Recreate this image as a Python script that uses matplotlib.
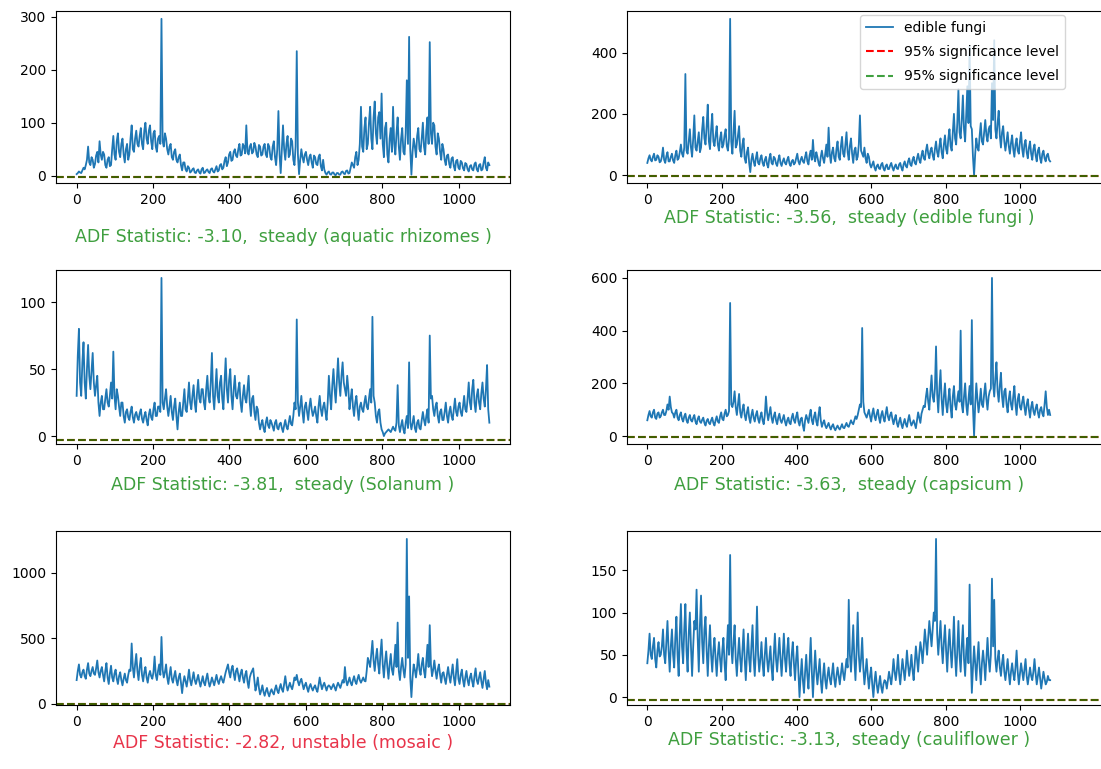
import numpy as np
import matplotlib.pyplot as plt
from matplotlib.ticker import MaxNLocator

# daily series:
# main values every 6 days (0..1080) plus in-between values (3..1077)
days = np.arange(0, 1081, 6)
mid_days = np.arange(3, 1080, 6)

aquatic_rhizomes = [
    3, 8, 5, 15, 20, 55, 20, 30, 22, 45,
    65, 30, 40, 15, 35, 20, 75, 30, 80, 35,
    70, 25, 60, 40, 95, 45, 85, 55, 90, 50,
    100, 60, 95, 50, 85, 45, 75, 296, 55, 70,
    40, 60, 30, 50, 25, 40, 10, 25, 8, 15,
    8, 14, 5, 12, 4, 15, 6, 12, 5, 14,
    6, 18, 10, 22, 15, 35, 25, 45, 30, 50,
    35, 60, 40, 55, 95, 40, 60, 45, 55, 35,
    55, 40, 60, 35, 55, 30, 65, 20, 122, 5,
    95, 30, 75, 40, 65, 20, 235, 3, 50, 25,
    45, 20, 40, 15, 35, 20, 40, 10, 12, 2,
    8, 2, 6, 1, 5, 2, 8, 3, 10, 5,
    25, 15, 45, 30, 130, 45, 110, 60, 130, 50,
    140, 60, 120, 155, 35, 100, 25, 90, 130, 40,
    110, 30, 90, 40, 180, 262, 2, 70, 35, 90,
    45, 100, 40, 110, 252, 60, 95, 40, 70, 30,
    50, 20, 40, 15, 35, 10, 30, 12, 25, 10,
    22, 8, 20, 10, 25, 8, 22, 12, 35, 10,
    20]
aquatic_rhizomes_mid = [
    5, 6, 10, 12, 30, 25, 35, 15, 38, 25,
    40, 45, 20, 30, 18, 50, 40, 65, 45, 60,
    40, 50, 30, 70, 50, 70, 60, 75, 60, 85,
    70, 85, 65, 80, 55, 70, 60, 65, 80, 50,
    55, 35, 45, 30, 35, 20, 25, 12, 18, 6,
    12, 6, 10, 6, 12, 5, 10, 7, 12, 8,
    12, 8, 20, 12, 28, 18, 40, 28, 45, 38,
    50, 38, 60, 42, 45, 55, 42, 62, 40, 58,
    38, 55, 40, 60, 35, 55, 35, 50, 40, 50,
    50, 60, 35, 70, 30, 55, 40, 30, 35, 40,
    30, 35, 25, 38, 22, 35, 18, 30, 5, 6,
    3, 6, 2, 5, 2, 7, 4, 9, 4, 15,
    20, 35, 20, 60, 55, 90, 50, 100, 70, 110,
    80, 110, 70, 60, 90, 40, 70, 45, 60, 80,
    55, 70, 45, 80, 60, 50, 45, 55, 75, 50,
    70, 55, 85, 60, 80, 100, 55, 80, 45, 60,
    30, 38, 22, 32, 18, 28, 15, 28, 14, 24,
    12, 18, 12, 22, 12, 20, 10, 25, 15, 25]

edible_fungi = [
    40, 65, 45, 70, 50, 60, 45, 90, 40, 75,
    45, 70, 40, 80, 55, 100, 60, 330, 70, 150,
    60, 195, 80, 140, 90, 190, 100, 230, 85, 200,
    95, 160, 80, 140, 100, 150, 80, 510, 70, 210,
    100, 160, 60, 120, 40, 90, 10, 70, 30, 75,
    35, 65, 30, 60, 25, 70, 35, 55, 30, 65,
    30, 55, 35, 60, 30, 50, 40, 70, 35, 60,
    40, 75, 35, 80, 115, 45, 60, 30, 80, 40,
    100, 155, 40, 90, 45, 110, 50, 125, 60, 140,
    50, 120, 40, 90, 60, 195, 70, 90, 40, 60,
    25, 45, 15, 35, 20, 40, 15, 35, 20, 40,
    15, 35, 20, 40, 15, 45, 25, 55, 30, 60,
    35, 70, 40, 80, 50, 100, 55, 90, 50, 110,
    60, 120, 55, 130, 70, 150, 80, 200, 100, 280,
    120, 260, 110, 290, 420, 150, 0, 120, 80, 170,
    100, 180, 110, 160, 300, 440, 120, 210, 90, 160,
    80, 140, 70, 130, 60, 120, 70, 140, 60, 115,
    55, 110, 50, 100, 45, 90, 40, 80, 45, 70,
    45]
edible_fungi_mid = [
    55, 50, 60, 48, 65, 42, 60, 50, 62, 45,
    60, 48, 65, 50, 75, 70, 90, 80, 110, 90,
    120, 90, 110, 75, 150, 120, 160, 110, 150, 110,
    130, 100, 120, 90, 130, 95, 120, 110, 140, 90,
    130, 80, 100, 55, 75, 40, 50, 45, 55, 40,
    55, 40, 50, 35, 55, 40, 60, 38, 50, 40,
    45, 40, 50, 38, 45, 35, 55, 45, 50, 45,
    60, 45, 65, 50, 60, 75, 40, 60, 55, 70,
    60, 70, 75, 55, 85, 60, 95, 70, 100, 75,
    95, 70, 80, 50, 100, 80, 60, 55, 70, 35,
    35, 25, 30, 22, 35, 22, 30, 20, 32, 25,
    28, 22, 35, 25, 35, 30, 45, 35, 50, 40,
    55, 50, 65, 55, 80, 70, 80, 65, 85, 75,
    95, 75, 100, 85, 120, 95, 140, 120, 170, 140,
    180, 150, 200, 170, 160, 60, 70, 90, 130, 110,
    140, 130, 150, 120, 180, 150, 170, 130, 140, 110,
    110, 95, 105, 85, 100, 80, 110, 85, 100, 75,
    90, 70, 85, 65, 80, 55, 70, 55, 65, 50]

solanum = [
    30, 80, 30, 70, 28, 68, 35, 62, 30, 45,
    15, 30, 20, 35, 22, 40, 63, 20, 30, 15,
    25, 10, 20, 12, 22, 10, 18, 12, 20, 10,
    18, 8, 20, 12, 25, 15, 22, 118, 20, 35,
    15, 30, 12, 28, 5, 25, 15, 35, 18, 40,
    20, 38, 18, 42, 25, 35, 20, 45, 25, 62,
    20, 50, 25, 45, 20, 58, 25, 50, 20, 45,
    28, 40, 18, 38, 25, 45, 15, 30, 12, 20,
    5, 12, 3, 14, 6, 10, 4, 12, 5, 10,
    3, 12, 5, 15, 8, 25, 87, 15, 30, 10,
    25, 12, 28, 15, 22, 10, 30, 15, 25, 12,
    45, 20, 50, 25, 58, 30, 55, 35, 45, 20,
    35, 15, 30, 12, 25, 18, 30, 20, 35, 89,
    25, 10, 20, 5, 0, 3, 5, 3, 7, 4,
    38, 3, 12, 2, 15, 55, 5, 15, 3, 12,
    5, 18, 8, 20, 75, 30, 15, 25, 10, 20,
    12, 25, 10, 22, 12, 28, 15, 25, 15, 30,
    18, 40, 20, 42, 18, 35, 20, 40, 22, 53,
    10]
solanum_mid = [
    60, 40, 55, 40, 50, 45, 48, 40, 38, 25,
    25, 20, 28, 25, 30, 28, 30, 35, 22, 25,
    15, 18, 14, 18, 14, 16, 14, 17, 13, 15,
    12, 16, 14, 20, 15, 22, 18, 25, 28, 22,
    22, 18, 22, 15, 18, 15, 25, 20, 28, 25,
    30, 25, 32, 28, 35, 25, 35, 30, 40, 30,
    35, 30, 40, 28, 40, 35, 42, 30, 35, 30,
    35, 25, 30, 28, 35, 25, 28, 18, 22, 10,
    9, 6, 10, 8, 12, 7, 10, 6, 9, 6,
    8, 7, 10, 9, 15, 20, 25, 22, 18, 22,
    18, 22, 20, 18, 15, 22, 20, 22, 18, 25,
    30, 38, 35, 42, 40, 45, 40, 30, 35, 28,
    22, 25, 20, 22, 20, 25, 22, 28, 25, 30,
    15, 18, 10, 3, 2, 4, 4, 5, 5, 10,
    8, 8, 5, 10, 6, 10, 10, 6, 10, 6,
    12, 12, 15, 10, 28, 20, 22, 15, 18, 12,
    18, 15, 18, 15, 20, 18, 22, 18, 22, 20,
    28, 25, 35, 25, 30, 25, 32, 28, 35, 20]

capsicum = [
    60, 95, 70, 100, 65, 90, 75, 100, 80, 120,
    150, 90, 70, 100, 60, 90, 55, 85, 50, 80,
    55, 80, 45, 75, 50, 70, 40, 65, 45, 70,
    40, 75, 50, 90, 60, 100, 80, 505, 110, 170,
    80, 160, 70, 120, 60, 110, 50, 100, 55, 95,
    50, 90, 45, 150, 60, 110, 50, 90, 45, 85,
    50, 80, 40, 70, 45, 85, 50, 90, 40, 70,
    20, 80, 50, 100, 45, 90, 40, 110, 35, 60,
    30, 50, 25, 45, 22, 40, 25, 45, 30, 50,
    35, 60, 45, 75, 80, 120, 410, 90, 70, 100,
    55, 105, 60, 100, 50, 95, 55, 110, 60, 90,
    45, 80, 35, 70, 30, 65, 35, 80, 40, 60,
    30, 90, 50, 100, 110, 180, 100, 230, 130, 340,
    90, 250, 80, 200, 90, 180, 70, 190, 100, 170,
    400, 90, 200, 80, 190, 440, 0, 200, 90, 180,
    110, 200, 100, 170, 600, 150, 280, 130, 240, 110,
    180, 90, 170, 100, 190, 80, 160, 100, 150, 80,
    140, 70, 130, 80, 120, 70, 110, 75, 170, 80,
    80]
capsicum_mid = [
    80, 75, 90, 70, 85, 70, 90, 80, 95, 100,
    110, 85, 90, 70, 80, 65, 75, 60, 70, 60,
    70, 55, 65, 55, 62, 50, 58, 50, 60, 50,
    60, 55, 75, 65, 85, 75, 95, 120, 130, 110,
    120, 90, 100, 80, 90, 70, 80, 70, 80, 65,
    75, 60, 80, 90, 85, 70, 75, 60, 70, 60,
    65, 55, 60, 50, 70, 60, 75, 55, 65, 40,
    60, 65, 80, 60, 75, 55, 80, 60, 50, 40,
    40, 35, 38, 30, 32, 30, 35, 32, 40, 38,
    48, 50, 60, 65, 100, 110, 130, 80, 85, 75,
    85, 75, 85, 70, 80, 70, 85, 75, 80, 65,
    65, 50, 55, 45, 50, 45, 60, 55, 50, 45,
    60, 70, 85, 115, 150, 130, 170, 150, 180, 160,
    180, 140, 150, 120, 140, 110, 150, 120, 140, 130,
    120, 150, 120, 140, 120, 110, 120, 140, 130, 120,
    160, 140, 150, 180, 200, 220, 170, 190, 150, 170,
    120, 140, 120, 150, 120, 140, 110, 130, 110, 120,
    100, 110, 95, 105, 90, 100, 85, 120, 110, 100]

mosaic = [
    180, 300, 200, 260, 190, 310, 210, 280, 220, 330,
    200, 280, 170, 310, 150, 290, 170, 260, 150, 240,
    140, 230, 160, 260, 460, 200, 380, 180, 350, 170,
    280, 160, 250, 190, 360, 180, 300, 510, 200, 300,
    150, 280, 160, 250, 140, 230, 80, 210, 130, 260,
    140, 240, 150, 220, 130, 210, 140, 230, 130, 200,
    140, 220, 150, 210, 160, 240, 300, 200, 290, 180,
    270, 170, 260, 160, 250, 120, 230, 270, 100, 200,
    70, 140, 60, 120, 55, 110, 70, 140, 80, 150,
    90, 210, 100, 160, 110, 200, 220, 140, 190, 110,
    160, 90, 150, 100, 140, 90, 200, 110, 160, 100,
    140, 110, 150, 100, 160, 120, 180, 280, 140, 200,
    140, 210, 150, 220, 160, 200, 170, 350, 280, 480,
    250, 420, 230, 490, 200, 400, 190, 380, 220, 450,
    620, 180, 350, 200, 1260, 820, 50, 300, 200, 380,
    220, 350, 200, 450, 600, 210, 330, 190, 300, 160,
    240, 150, 280, 160, 300, 140, 340, 150, 260, 130,
    250, 140, 230, 130, 270, 150, 240, 120, 250, 110,
    130]
mosaic_mid = [
    250, 220, 240, 210, 260, 230, 250, 230, 270, 240,
    250, 220, 250, 200, 230, 200, 230, 190, 210, 180,
    190, 180, 220, 250, 280, 300, 250, 280, 220, 240,
    200, 220, 210, 240, 220, 250, 220, 260, 240, 200,
    220, 190, 210, 180, 200, 160, 160, 170, 190, 180,
    190, 180, 185, 170, 170, 160, 190, 170, 160, 170,
    180, 175, 185, 180, 200, 270, 240, 260, 230, 250,
    220, 230, 200, 220, 170, 200, 250, 180, 140, 120,
    100, 90, 95, 80, 90, 85, 110, 100, 120, 110,
    150, 140, 130, 130, 150, 180, 170, 170, 150, 140,
    120, 130, 120, 125, 110, 140, 150, 140, 130, 130,
    130, 130, 125, 135, 140, 150, 160, 180, 170, 160,
    180, 170, 190, 180, 180, 175, 250, 320, 380, 330,
    350, 300, 380, 300, 320, 280, 300, 260, 320, 280,
    250, 280, 260, 300, 350, 200, 200, 260, 280, 260,
    300, 250, 320, 280, 300, 260, 250, 260, 220, 230,
    190, 220, 210, 230, 200, 240, 190, 220, 180, 200,
    180, 200, 170, 210, 180, 200, 170, 190, 160, 180]

cauliflower = [
    40, 75, 45, 70, 35, 65, 50, 80, 40, 90,
    30, 80, 35, 95, 25, 110, 40, 110, 30, 100,
    25, 90, 127, 30, 120, 40, 95, 25, 85, 30,
    70, 25, 65, 30, 70, 20, 85, 168, 40, 85,
    25, 70, 30, 80, 20, 75, 30, 85, 25, 107,
    30, 65, 25, 70, 30, 60, 20, 75, 30, 70,
    25, 75, 30, 70, 25, 65, 20, 60, 0, 45,
    5, 50, 10, 70, 0, 55, 15, 45, 5, 40,
    10, 35, 15, 40, 12, 35, 15, 40, 20, 45,
    115, 30, 85, 20, 100, 30, 70, 15, 45, 10,
    35, 0, 30, 5, 25, 5, 20, 10, 30, 15,
    45, 20, 50, 15, 45, 20, 55, 25, 50, 20,
    60, 30, 65, 40, 80, 50, 90, 60, 100, 187,
    50, 90, 40, 85, 30, 80, 35, 95, 25, 90,
    30, 85, 25, 70, 133, 5, 60, 20, 65, 15,
    55, 20, 70, 30, 140, 115, 30, 55, 25, 50,
    20, 45, 15, 40, 20, 55, 15, 40, 20, 45,
    15, 35, 20, 45, 15, 35, 10, 30, 15, 25,
    20]
cauliflower_mid = [
    55, 50, 60, 45, 55, 48, 60, 50, 65, 55,
    60, 50, 70, 50, 75, 60, 80, 55, 75, 60,
    60, 80, 70, 85, 65, 80, 55, 60, 50, 55,
    45, 50, 45, 55, 40, 55, 50, 60, 65, 45,
    50, 45, 55, 45, 50, 45, 60, 45, 55, 50,
    45, 40, 50, 45, 45, 35, 50, 45, 50, 45,
    50, 45, 55, 40, 50, 40, 45, 30, 25, 20,
    30, 25, 40, 30, 30, 30, 30, 20, 25, 20,
    25, 22, 28, 22, 25, 25, 28, 28, 32, 35,
    50, 55, 45, 55, 50, 45, 35, 30, 25, 25,
    15, 18, 15, 15, 12, 15, 18, 20, 22, 28,
    30, 32, 28, 30, 32, 35, 38, 35, 32, 40,
    45, 50, 55, 60, 65, 70, 75, 80, 90, 75,
    70, 60, 65, 55, 60, 55, 60, 50, 55, 50,
    60, 45, 55, 40, 50, 35, 40, 45, 35, 40,
    40, 45, 45, 50, 60, 45, 45, 35, 40, 30,
    32, 28, 30, 28, 35, 30, 28, 30, 32, 25,
    25, 25, 30, 28, 25, 22, 20, 22, 18, 20]

names = ['aquatic rhizomes', 'edible fungi', 'Solanum', 'capsicum', 'mosaic', 'cauliflower']
series = [aquatic_rhizomes, edible_fungi, solanum, capsicum, mosaic, cauliflower]
series_mid = [aquatic_rhizomes_mid, edible_fungi_mid, solanum_mid, capsicum_mid,
              mosaic_mid, cauliflower_mid]
adf_stat = [-3.10, -3.56, -3.81, -3.63, -2.82, -3.13]
crit_5 = -2.86

fig = plt.figure(figsize=(11.01, 7.69), dpi=100)
W, H = 1101, 769

# axes boxes in pixels: left, top, right, bottom
boxes = [(56, 11, 510, 183), (627, 11, 1121, 183),
         (56, 270, 510, 444), (627, 270, 1121, 444),
         (56, 531, 510, 705), (627, 531, 1121, 705)]
label_y = [237, 218, 485, 485, 743, 740]
label_x = [283, 849, 283, 849, 283, 849]

fs = 10
for i in range(6):
    l, t, r, b = boxes[i]
    x = np.concatenate([days, mid_days])
    y = np.concatenate([series[i], series_mid[i]])
    order = np.argsort(x)

    ax = fig.add_axes([l / W, 1 - b / H, (r - l) / W, (b - t) / H])
    ax.plot(x[order], y[order], color='#1f77b4', lw=1.3, label=names[i])
    ax.axhline(crit_5, color='red', ls='--', lw=1.5, label='95% significance level')
    ax.axhline(crit_5, color='green', ls='--', lw=1.5, alpha=0.75, label='95% significance level')
    if i % 2 == 1:
        # right column: x axis keeps its scale, frame runs off the figure
        ax.set_xlim(-54.5, -54.5 + (r - l) / 0.373)
    ax.set_xticks(range(0, 1001, 200))
    ax.yaxis.set_major_locator(MaxNLocator(nbins=5, steps=[1, 2, 5, 10]))
    ax.tick_params(labelsize=fs)
    if adf_stat[i] < crit_5:
        txt = f"ADF Statistic: {adf_stat[i]:.2f},  steady ({names[i]} )"
        col = '#3f9f3f'
    else:
        txt = f"ADF Statistic: {adf_stat[i]:.2f}, unstable ({names[i]} )"
        col = '#e8344a'
    ax.set_xlabel(txt, color=col, fontsize=12.5, va='center')
    ax.xaxis.set_label_coords((label_x[i] - l) / (r - l), (b - label_y[i]) / (b - t))
    if i == 1:
        ax.legend(loc='upper right', bbox_to_anchor=((1065 - l) / (r - l), 1 - 4 / (b - t)),
                  borderaxespad=0, fontsize=fs, framealpha=0.8, labelspacing=0.75)

plt.savefig('out.png', dpi=100)
